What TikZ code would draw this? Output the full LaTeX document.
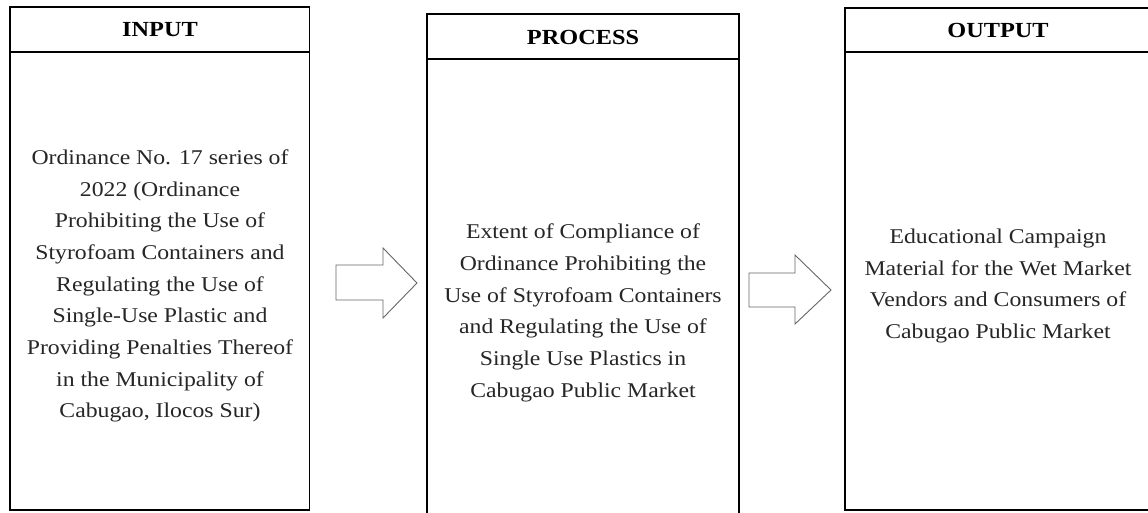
\documentclass[tikz,border=0pt]{standalone}
\usepackage{fontspec}
\setmainfont[FakeStretch=1.13]{Liberation Serif}
\begin{document}
\begin{tikzpicture}[x=1pt,y=-1pt,
  frame/.style={draw=black, line width=1.6pt, fill=white},
  sep/.style={draw=black, line width=1.4pt},
  head/.style={font=\fontsize{21.5}{26}\selectfont\bfseries, inner sep=0pt},
  body/.style={font=\fontsize{21}{31.7}\selectfont, align=center, inner sep=0pt, text=black!85},
  blockarrow/.style={draw=black!60, line width=0.9pt, fill=white}]
\useasboundingbox (0,0) rectangle (1148,513);
\fill[white] (0,0) rectangle (1148,513);
% boxes
\draw[frame] (10,7) rectangle (309.5,510);
\draw[sep] (10,52) -- (309.5,52);
\draw[frame] (427,14) rectangle (739,530);
\draw[sep] (427,59) -- (739,59);
\draw[frame] (845,8) rectangle (1165,510);
\draw[sep] (845,52) -- (1165,52);
% headers
\node[head] (hin) at (160,30) {INPUT};
\node[head] (hpr) at (583,37) {PROCESS};
\node[head] (hout) at (998,30) {OUTPUT};
% bodies
\node[body] (tin) at (160,286) {Ordinance No. 17 series of\\ 2022 (Ordinance\\ Prohibiting the Use of\\ Styrofoam Containers and\\ Regulating the Use of\\ Single-Use Plastic and\\ Providing Penalties Thereof\\ in the Municipality of\\ Cabugao, Ilocos Sur)};
\node[body] (tpr) at (583,313) {Extent of Compliance of\\ Ordinance Prohibiting the\\ Use of Styrofoam Containers\\ and Regulating the Use of\\ Single Use Plastics in\\ Cabugao Public Market};
\node[body] (tout) at (998,286) {Educational Campaign\\ Material for the Wet Market\\ Vendors and Consumers of\\ Cabugao Public Market};
% block arrows
\draw[blockarrow] (336,265) -- (383,265) -- (383,248) -- (417,283) -- (383,318) -- (383,300) -- (336,300) -- cycle;
\draw[blockarrow] (749,273) -- (795,273) -- (795,255) -- (831,290) -- (795,324) -- (795,307) -- (749,307) -- cycle;
\end{tikzpicture}
\end{document}
